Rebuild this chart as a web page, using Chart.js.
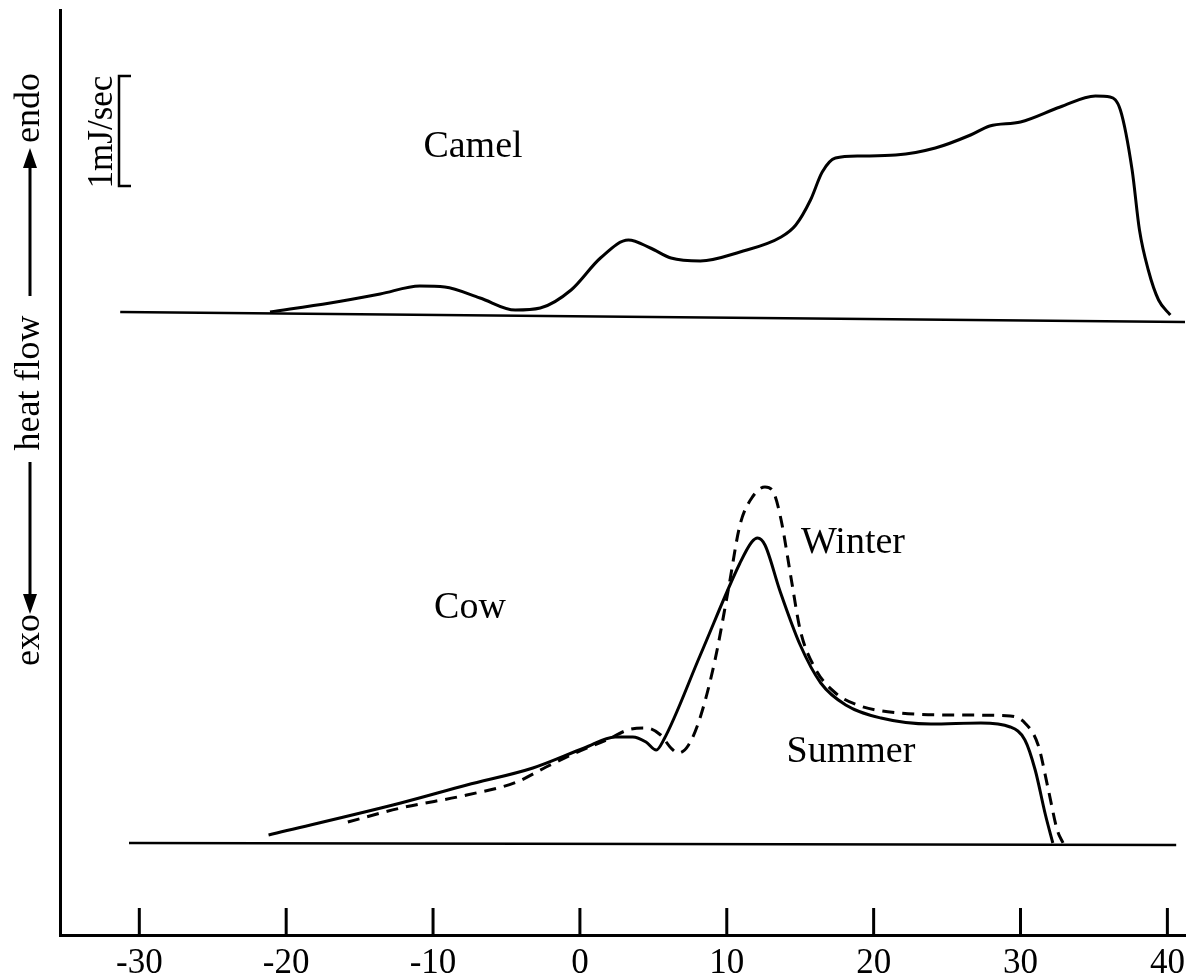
<!DOCTYPE html>
<html>
<head>
<meta charset="utf-8">
<script src="https://cdn.jsdelivr.net/npm/chart.js@4.4.1/dist/chart.umd.min.js"></script>
<style>
  html, body { margin: 0; padding: 0; background: #fff; }
  #wrap { width: 1194px; height: 980px; }
</style>
</head>
<body>
<div id="wrap"><canvas id="dsc"></canvas></div>
<script>
// x: temperature, y: heat flow (arbitrary offset units, endo up)
const xTicks = [-30, -20, -10, 0, 10, 20, 30, 40];

const camelBaseT  = [-31.3, 41.2];
const camelBaseHF = [6.23, 6.13];
const camelT  = [-21.1, -17.0, -13.6, -10.9, -9.2, -6.8, -4.4, -2.7, -0.6, 1.4, 3.3, 4.8, 6.2, 8.2, 10.9, 13.7, 14.7, 15.7, 16.5, 17.4, 19.1, 21.5, 24.2, 26.6, 27.9, 30.0, 32.7, 35.1, 36.1, 36.8, 37.6, 38.1, 38.7, 39.4, 40.2];
const camelHF = [6.23, 6.32, 6.41, 6.49, 6.48, 6.37, 6.25, 6.27, 6.45, 6.77, 6.95, 6.87, 6.77, 6.74, 6.83, 6.98, 7.10, 7.35, 7.63, 7.77, 7.79, 7.80, 7.87, 8.00, 8.09, 8.13, 8.28, 8.39, 8.38, 8.25, 7.65, 7.05, 6.65, 6.35, 6.20];

const cowBaseT  = [-30.7, 40.6];
const cowBaseHF = [0.92, 0.90];
const summerT  = [-21.2, -12.2, -7.7, -3.2, 0.3, 2.4, 3.6, 4.5, 5.2, 5.7, 8.2, 10.9, 11.7, 12.1, 12.6, 13.6, 15.0, 16.4, 18.1, 20.5, 23.9, 27.3, 29.3, 30.3, 31.0, 31.7, 32.2];
const summerHF = [1.00, 1.32, 1.50, 1.67, 1.87, 1.98, 1.98, 1.93, 1.85, 1.95, 2.80, 3.72, 3.93, 3.97, 3.90, 3.45, 2.90, 2.52, 2.30, 2.17, 2.11, 2.12, 2.08, 1.95, 1.65, 1.20, 0.92];
const winterT  = [-15.8, -12.2, -7.7, -4.3, -2.3, -0.3, 1.8, 3.5, 4.5, 5.5, 6.2, 6.7, 7.4, 8.2, 9.2, 10.1, 10.9, 11.7, 12.6, 13.2, 13.7, 14.4, 15.0, 16.0, 17.4, 19.1, 21.8, 25.9, 29.3, 30.3, 31.2, 31.9, 32.5, 32.9];
const winterHF = [1.13, 1.27, 1.40, 1.53, 1.68, 1.82, 1.95, 2.06, 2.07, 2.00, 1.87, 1.82, 1.90, 2.18, 2.75, 3.45, 4.10, 4.37, 4.48, 4.42, 4.15, 3.55, 3.05, 2.67, 2.42, 2.29, 2.22, 2.20, 2.19, 2.12, 1.90, 1.45, 1.05, 0.92];

const pts = (xs, ys) => xs.map((x, i) => ({ x: x, y: ys[i] }));
const serif = '"Liberation Serif", "DejaVu Serif", serif';

const line = (data, opts) => Object.assign({
  data: data,
  borderColor: '#000',
  borderWidth: 3,
  pointRadius: 0,
  fill: false,
  cubicInterpolationMode: 'monotone'
}, opts);

const annotate = {
  id: 'annotate',
  afterDraw(chart) {
    const ctx = chart.ctx;
    const xs = chart.scales.x;
    const bottom = chart.chartArea.bottom;
    ctx.save();
    ctx.strokeStyle = '#000';
    ctx.fillStyle = '#000';

    // tick marks point up into the plot
    ctx.lineWidth = 3;
    xTicks.forEach(t => {
      const px = xs.getPixelForValue(t);
      ctx.beginPath();
      ctx.moveTo(px, bottom);
      ctx.lineTo(px, bottom - 27);
      ctx.stroke();
    });

    ctx.font = '38px ' + serif;
    ctx.textAlign = 'center';
    ctx.textBaseline = 'middle';
    ctx.fillText('Camel', 473, 147);
    ctx.fillText('Cow', 470, 608);
    ctx.fillText('Winter', 853, 543);
    ctx.fillText('Summer', 851, 752);

    const vtext = (txt, cx, cy, size) => {
      ctx.save();
      ctx.translate(cx, cy);
      ctx.rotate(-Math.PI / 2);
      ctx.font = size + 'px ' + serif;
      ctx.fillText(txt, 0, 0);
      ctx.restore();
    };

    // scale bar
    vtext('1mJ/sec', 103, 132, 35);
    ctx.lineWidth = 2.5;
    ctx.beginPath();
    ctx.moveTo(131, 76);
    ctx.lineTo(119, 76);
    ctx.lineTo(119, 186);
    ctx.lineTo(131, 186);
    ctx.stroke();

    // y title: exo <-- heat flow --> endo
    const ax = 30;
    vtext('endo', ax, 108, 36);
    vtext('heat flow', ax, 383, 36);
    vtext('exo', ax, 640, 36);
    ctx.lineWidth = 3;
    ctx.beginPath();
    ctx.moveTo(ax, 165); ctx.lineTo(ax, 296);
    ctx.moveTo(ax, 462); ctx.lineTo(ax, 598);
    ctx.stroke();
    ctx.beginPath();
    ctx.moveTo(ax, 148); ctx.lineTo(ax - 7, 168); ctx.lineTo(ax + 7, 168); ctx.closePath();
    ctx.moveTo(ax, 614); ctx.lineTo(ax - 7, 594); ctx.lineTo(ax + 7, 594); ctx.closePath();
    ctx.fill();
    ctx.restore();
  }
};

new Chart(document.getElementById('dsc'), {
  type: 'line',
  data: {
    datasets: [
      line(pts(camelBaseT, camelBaseHF), { label: 'Camel baseline', borderWidth: 2.5, cubicInterpolationMode: 'default', tension: 0 }),
      line(pts(camelT, camelHF), { label: 'Camel' }),
      line(pts(cowBaseT, cowBaseHF), { label: 'Cow baseline', borderWidth: 2.5, cubicInterpolationMode: 'default', tension: 0 }),
      line(pts(summerT, summerHF), { label: 'Summer' }),
      line(pts(winterT, winterHF), { label: 'Winter', borderDash: [12, 8] })
    ]
  },
  options: {
    responsive: true,
    maintainAspectRatio: false,
    animation: false,
    layout: { padding: { left: 60, right: 9, top: 10, bottom: -13 } },
    plugins: { legend: { display: false }, tooltip: { enabled: false } },
    scales: {
      x: {
        type: 'linear',
        min: -35.4,
        max: 41.2,
        afterBuildTicks: s => { s.ticks = xTicks.map(v => ({ value: v })); },
        grid: { display: false, drawTicks: false },
        border: { display: true, color: '#000', width: 3 },
        ticks: { color: '#000', padding: 8, maxRotation: 0, font: { family: serif, size: 35 } }
      },
      y: {
        type: 'linear',
        min: 0,
        max: 9.25,
        grid: { display: false, drawTicks: false },
        border: { display: true, color: '#000', width: 3 },
        ticks: { display: false }
      }
    }
  },
  plugins: [annotate]
});
</script>
</body>
</html>
